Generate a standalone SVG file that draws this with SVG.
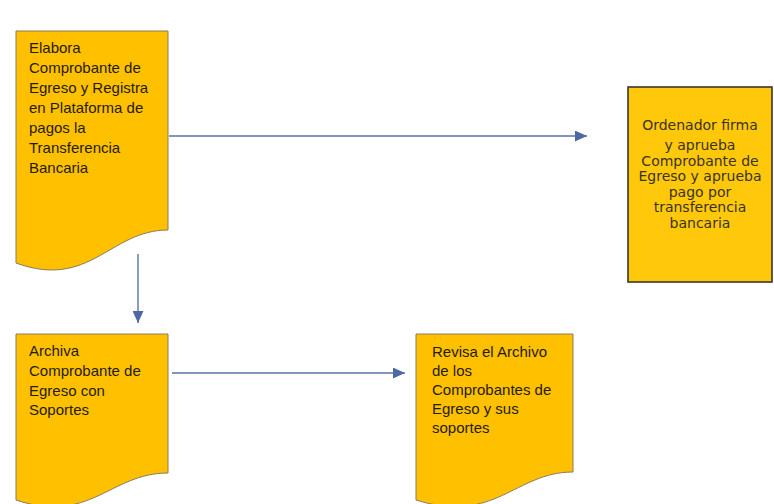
<svg xmlns="http://www.w3.org/2000/svg" width="774" height="504" viewBox="0 0 774 504">
<style>
.doc{fill:#FFC000;stroke:#8C7B5A;stroke-width:1}
.box{fill:#FFC80A;stroke:#3A3530;stroke-width:1.6}
.t{font-family:"Liberation Sans",Arial,sans-serif;font-size:15px;fill:#241c00}
.tc{font-family:"DejaVu Sans",Verdana,sans-serif;font-size:14px;fill:#3a3320;text-anchor:middle}
.c{stroke:#5A72AA;stroke-width:1.4;fill:none}
</style>
<defs>
<marker id="ah" viewBox="0 0 12 11" refX="12" refY="5.5" markerWidth="12" markerHeight="11" markerUnits="userSpaceOnUse" orient="auto">
<path d="M0,0 L12,5.5 L0,11 Z" fill="#4E68A6"/>
</marker>
</defs>
<rect width="774" height="504" fill="#fff"/>
<g id="connectors">
<line class="c" x1="169" y1="136" x2="587" y2="136" marker-end="url(#ah)"/>
<line class="c" x1="138" y1="254" x2="138" y2="323" marker-end="url(#ah)"/>
<line class="c" x1="172" y1="373" x2="405" y2="373" marker-end="url(#ah)"/>
</g>
<g id="node1">
<path class="doc" d="M16,31 H168 V230 C110,230 90,290 16,263 Z"/>
<text class="t" x="29" y="53">Elabora</text>
<text class="t" x="29" y="73">Comprobante de</text>
<text class="t" x="29" y="93">Egreso y Registra</text>
<text class="t" x="29" y="113">en Plataforma de</text>
<text class="t" x="29" y="133">pagos la</text>
<text class="t" x="29" y="153">Transferencia</text>
<text class="t" x="29" y="173">Bancaria</text>
</g>
<g id="node2">
<rect class="box" x="628" y="87" width="144" height="195"/>
<text class="tc" x="700" y="130">Ordenador firma</text>
<text class="tc" x="700" y="150">y aprueba</text>
<text class="tc" x="700" y="165.5">Comprobante de</text>
<text class="tc" x="700" y="181">Egreso y aprueba</text>
<text class="tc" x="700" y="196.5">pago por</text>
<text class="tc" x="700" y="212">transferencia</text>
<text class="tc" x="700" y="227.5">bancaria</text>
</g>
<g id="node3">
<path class="doc" d="M16,334 H168 V473 C110,473 90,525 16,500 Z"/>
<text class="t" x="29" y="356">Archiva</text>
<text class="t" x="29" y="376">Comprobante de</text>
<text class="t" x="29" y="395.5">Egreso con</text>
<text class="t" x="29" y="415">Soportes</text>
</g>
<g id="node4">
<path class="doc" d="M416,334 H573 V472 C515,472 495,525 416,500 Z"/>
<text class="t" x="432" y="357">Revisa el Archivo</text>
<text class="t" x="432" y="376">de los</text>
<text class="t" x="432" y="395">Comprobantes de</text>
<text class="t" x="432" y="414">Egreso y sus</text>
<text class="t" x="432" y="433">soportes</text>
</g>
</svg>
